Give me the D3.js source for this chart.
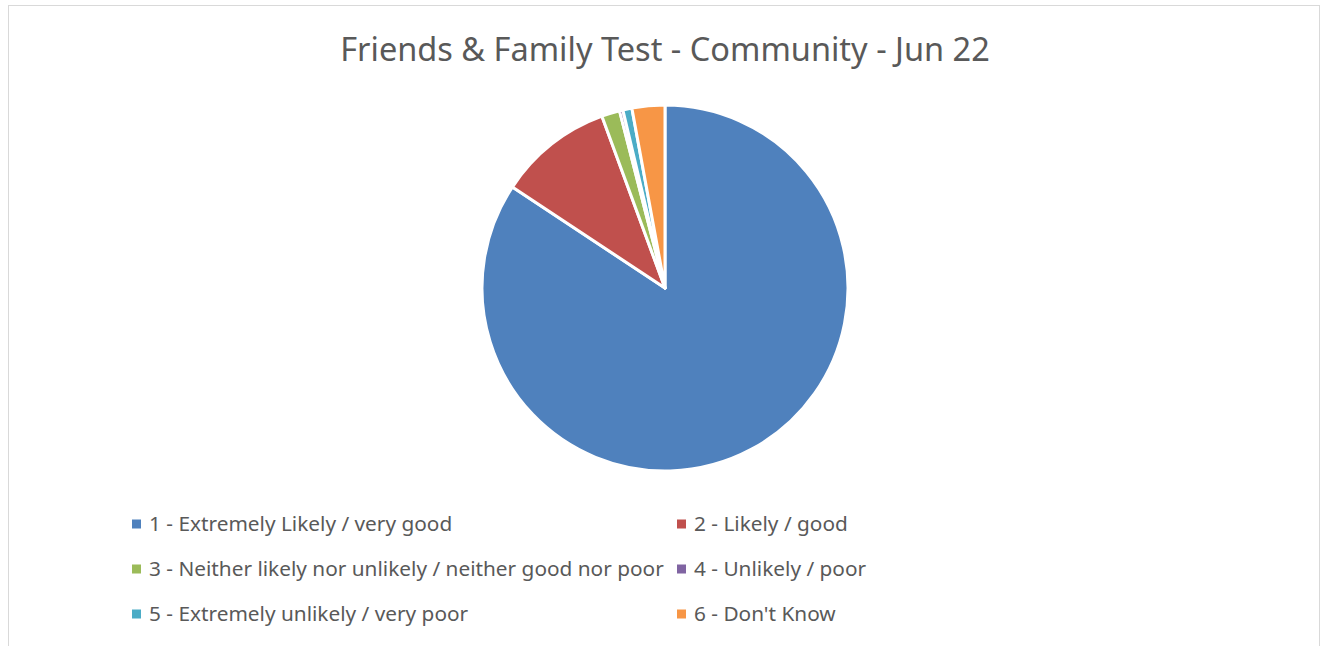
<!DOCTYPE html>
<html>
<head>
<meta charset="utf-8">
<script src="https://cdn.jsdelivr.net/npm/d3@7"></script>
<style>
  body { margin: 0; background: #fff; }
  svg { display: block; }
</style>
</head>
<body>
<svg id="vis-container"></svg>
<script>
const WIDTH = 1325
const HEIGHT = 646
const CONTAINER = d3.select("#vis-container")

// data (percent of responses)
const categories = [
    "1 - Extremely Likely / very good",
    "2 - Likely / good",
    "3 - Neither likely nor unlikely / neither good nor poor",
    "4 - Unlikely / poor",
    "5 - Extremely unlikely / very poor",
    "6 - Don't Know"
]
const values = [84.3, 10.1, 1.6, 0.3, 0.8, 2.9]
const colors = ["#4f81bd", "#c0504d", "#9bbb59", "#8064a2", "#4bacc6", "#f79646"]
const title = "Friends & Family Test - Community - Jun 22"

const FONT = "'Noto Sans', sans-serif"
const TEXT_COLOR = "#595959"

CONTAINER.attr('width', WIDTH).attr('height', HEIGHT)

// chart frame
CONTAINER.append('rect')
    .attr('x', 8.5).attr('y', 5.5)
    .attr('width', 1311).attr('height', 660)
    .attr('fill', '#fff')
    .attr('stroke', '#d9d9d9')
    .attr('stroke-width', 1)

// title
const titleText = CONTAINER.append('text')
    .attr('x', 665).attr('y', 61)
    .attr('text-anchor', 'middle')
    .style('font-family', FONT)
    .style('font-size', '28px')
    .style('fill', TEXT_COLOR)
    .text(title)
fitWidth(titleText, 650)

// pie
const pie = d3.pie().sort(null).value(d => d)
const arc = d3.arc().innerRadius(0).outerRadius(183)

const pieG = CONTAINER.append('g').attr('transform', 'translate(665,288)')
pieG.selectAll('path')
    .data(pie(values))
    .join('path')
    .attr('d', arc)
    .attr('fill', (d, i) => colors[i])
    .attr('stroke', '#fff')
    .attr('stroke-width', 3)
    .attr('stroke-linejoin', 'round')

// legend, two columns
const colX = [132, 677]
const rowY = [524, 569, 614]
const legend = CONTAINER.append('g')
const items = legend.selectAll('g')
    .data(categories)
    .join('g')
    .attr('transform', (d, i) => `translate(${colX[i % 2]},${rowY[Math.floor(i / 2)]})`)

items.append('rect')
    .attr('x', 0).attr('y', -4.5)
    .attr('width', 9).attr('height', 9)
    .attr('fill', (d, i) => colors[i])

const labels = items.append('text')
    .attr('x', 17).attr('y', 7)
    .style('font-family', FONT)
    .style('font-size', '19px')
    .style('fill', TEXT_COLOR)
    .text(d => d)

// scale legend font so the longest label matches the reference width
const longest = labels.filter((d, i) => i == 2)
const legendSize = fitWidth(longest, 515)
labels.style('font-size', legendSize + 'px')

function fitWidth(sel, target) {
    const size = parseFloat(sel.style('font-size'))
    const w = sel.node().getComputedTextLength()
    const newSize = size * target / w
    sel.style('font-size', newSize + 'px')
    return newSize
}
</script>
</body>
</html>
